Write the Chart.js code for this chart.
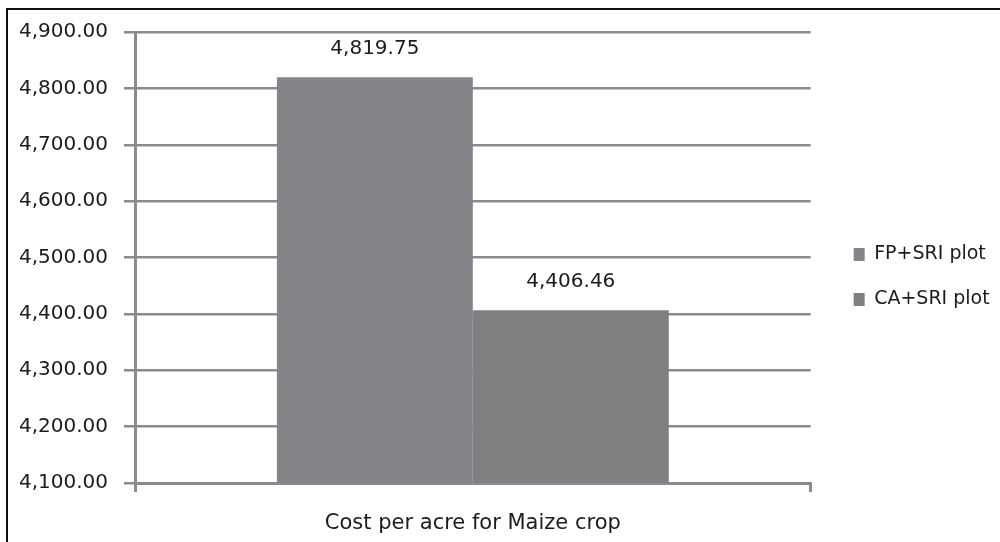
<!DOCTYPE html>
<html>
<head>
<meta charset="utf-8">
<title>Cost per acre for Maize crop</title>
<script src="https://cdn.jsdelivr.net/npm/chart.js@4.4.0/dist/chart.umd.min.js"></script>
<style>
  html, body { margin: 0; padding: 0; background: #fff; }
  #frame {
    position: absolute; left: 6px; top: 8px;
    width: 994px; height: 534px;
    border-left: 2px solid #111; border-top: 2px solid #111;
  }
  #frame canvas { display: block; }
</style>
</head>
<body>
<div id="frame"><canvas id="chart" width="992" height="532"></canvas></div>
<script>
// data
const categories = ['Cost per acre for Maize crop'];
const seriesNames = ['FP+SRI plot', 'CA+SRI plot'];
const fpSriValues = [4819.75];
const caSriValues = [4406.46];
const yMin = 4100;
const yMax = 4900;
const yStep = 100;

const barColors = ['#848589', '#7f8082'];
const lineColor = '#8b8b8f';
const textColor = '#1c1c1c';
const fontFamily = '"DejaVu Sans", sans-serif';

function fmt(v) {
  return v.toLocaleString('en-US', { minimumFractionDigits: 2, maximumFractionDigits: 2 });
}

// numbers above the bars
const valueLabels = {
  id: 'valueLabels',
  afterDatasetsDraw(chart) {
    const ctx = chart.ctx;
    ctx.save();
    ctx.font = '20px ' + fontFamily;
    ctx.fillStyle = textColor;
    ctx.textAlign = 'center';
    ctx.textBaseline = 'middle';
    chart.data.datasets.forEach((ds, i) => {
      chart.getDatasetMeta(i).data.forEach((bar, j) => {
        ctx.fillText(fmt(ds.data[j]), bar.x, bar.y - 28);
      });
    });
    ctx.restore();
  }
};

const ctx = document.getElementById('chart').getContext('2d');
new Chart(ctx, {
  type: 'bar',
  data: {
    labels: categories,
    datasets: [
      {
        label: seriesNames[0],
        data: fpSriValues,
        backgroundColor: barColors[0],
        barPercentage: 1,
        categoryPercentage: 0.58
      },
      {
        label: seriesNames[1],
        data: caSriValues,
        backgroundColor: barColors[1],
        barPercentage: 1,
        categoryPercentage: 0.58
      }
    ]
  },
  options: {
    responsive: false,
    animation: false,
    layout: {
      padding: { left: 8, top: 10, right: 10, bottom: 8 }
    },
    plugins: {
      tooltip: { enabled: false },
      legend: {
        position: 'right',
        align: 'center',
        labels: {
          color: textColor,
          font: { family: fontFamily, size: 19 },
          boxWidth: 11,
          boxHeight: 13,
          padding: 26
        }
      }
    },
    scales: {
      x: {
        offset: true,
        grid: {
          display: true,
          offset: true,
          drawOnChartArea: false,
          drawTicks: true,
          tickLength: 9,
          color: lineColor,
          lineWidth: 3
        },
        border: { display: true, color: lineColor, width: 3 },
        ticks: {
          color: textColor,
          font: { family: fontFamily, size: 21 },
          padding: 19
        },
        afterFit(scale) { scale.height = 51; }
      },
      y: {
        min: yMin,
        max: yMax,
        ticks: {
          stepSize: yStep,
          color: textColor,
          font: { family: fontFamily, size: 20, lineHeight: 0.6 },
          padding: 16,
          callback: (v) => fmt(v)
        },
        grid: {
          color: lineColor,
          lineWidth: 2.5,
          tickLength: 11
        },
        border: { display: true, color: lineColor, width: 3 },
        afterFit(scale) { scale.width = 119; }
      },
      spacer: {
        type: 'linear',
        position: 'right',
        display: true,
        grid: { display: false },
        border: { display: false },
        ticks: { display: false },
        afterFit(scale) { scale.width = 17; }
      }
    }
  },
  plugins: [valueLabels]
});
</script>
</body>
</html>
